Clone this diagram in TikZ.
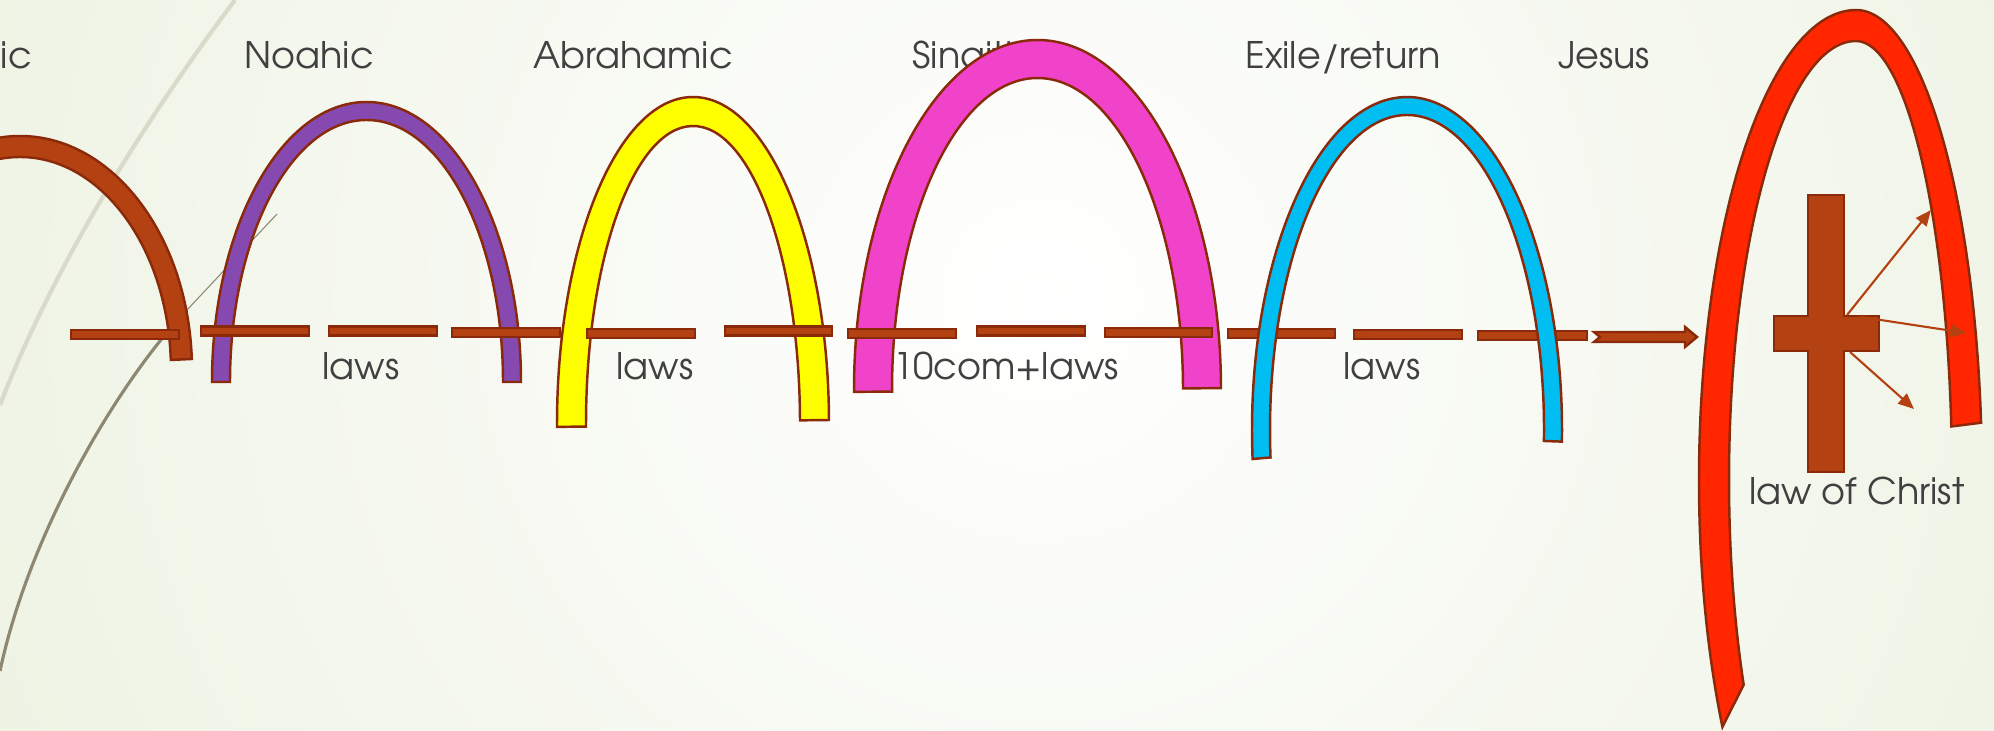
\documentclass[tikz,border=0pt]{standalone}
\usepackage{fontspec}
\setmainfont{texgyreadventor}[Extension=.otf, UprightFont=*-regular]
\usepackage{xcolor}
\usepackage{tikz}
\usetikzlibrary{arrows.meta}

\definecolor{lawbrown}{HTML}{B44112}
\definecolor{lawedge}{HTML}{8A2A0A}
\definecolor{noahpurple}{HTML}{8549B0}
\definecolor{abramyellow}{HTML}{FFFF00}
\definecolor{sinaipink}{HTML}{F043C9}
\definecolor{exileblue}{HTML}{00BDF2}
\definecolor{christred}{HTML}{FF2600}
\definecolor{inkgray}{HTML}{404040}
\definecolor{paper}{HTML}{E6EDD6}
\definecolor{wisplight}{HTML}{D9DACA}
\definecolor{wispdark}{HTML}{8E8772}

% one covenant arch: colour, centre x, centre y, x radius, y radius, thickness, start, end
\newcommand{\archband}[8]{%
  \filldraw[band, fill=#1] ([shift={(#7:#4 and #5)}]#2,#3) arc[start angle=#7, end angle=#8, x radius=#4, y radius=#5]
    -- ([shift={(#8:#4-#6 and #5-#6)}]#2,#3) arc[start angle=#8, end angle=#7, x radius=#4-#6, y radius=#5-#6] -- cycle;}

\tikzset{
  band/.style={draw=lawedge, line width=0.7pt},
  lawbar/.style={draw=lawedge, fill=lawbrown, line width=0.7pt},
  ray/.style={draw=lawbrown, line width=0.6pt, -{Triangle[length=4.5pt, width=3.8pt]}}
}

\begin{document}
\begin{tikzpicture}[x=0.01cm, y=-0.01cm, every node/.style={anchor=base, inner sep=0pt, text=inkgray, font=\fontsize{10.4}{12}\selectfont}]
    \useasboundingbox (0,0) rectangle (1994,731);
    \begin{scope}
    \clip (0,0) rectangle (1994,731);
    \shade[inner color=white, outer color=paper] (1040,300) circle (1700);
    \draw[wisplight, line width=1.2pt] (235,0) .. controls (160,100) and (60,250) .. (0,405);
    \draw[wispdark, line width=0.3pt] (277,214) -- (187,310);
    \draw[wispdark, line width=0.9pt] (187,310) .. controls (120,380) and (30,530) .. (0,671);

    % Covenant names
    \node (adamic) [anchor=base west] at (0,69) {ic};
    \node (noahic) at (309,69) {Noahic};
    \node (abrahamic) at (633,69) {Abrahamic};
    \node (sinaitic) [anchor=base west] at (912,69) {Sinaitic};
    \node (exile) at (1343,69) {Exile/return};
    \node (jesus) at (1604,69) {Jesus};

    % Arches
    \archband{lawbrown}{20}{370}{172}{234}{21}{180}{357.3}
    \archband{noahpurple}{366.5}{382}{154.5}{280}{18}{180}{360}
    \archband{abramyellow}{693}{424}{136}{327}{29}{179.5}{359.3}
    \archband{sinaipink}{1037.5}{390}{183.5}{350}{38}{179.7}{359.7}

    % The line of law
    \foreach \xa/\xb/\yc in {71/179/334.5, 201/309/331, 329/437/331, 452/560/332.5,
        587/695/333.5, 725/832/331, 848/956/333.5, 977/1085/331, 1105/1212/332.5,
        1228/1335/333.5, 1354/1462/334.5, 1478/1587/335.5}
        \filldraw[lawbar] (\xa,\yc-4.5) rectangle (\xb,\yc+4.5);

    \archband{exileblue}{1407}{430}{155}{333}{18}{175}{362}
    \filldraw[lawbar] (1594,332) -- (1685,332) -- (1685,327) -- (1697,337) -- (1685,347)
        -- (1685,342) -- (1594,342) -- (1600,337) -- cycle;

    % Christ arch, wider on the left
    \filldraw[band, fill=christred] ([shift={(148.3:157 and 470)}]1856,480)
        arc[start angle=148.3, end angle=270, x radius=157, y radius=470]
        arc[start angle=270, end angle=353, x radius=126, y radius=470]
        -- ([shift={(353:96 and 439)}]1856,480)
        arc[start angle=353, end angle=270, x radius=96, y radius=439]
        arc[start angle=270, end angle=152.2, x radius=127, y radius=439] -- cycle;

    % Cross
    \filldraw[lawbar] (1808,195) -- (1844,195) -- (1844,316) -- (1879,316) -- (1879,351)
        -- (1844,351) -- (1844,472) -- (1808,472) -- (1808,351) -- (1774,351)
        -- (1774,316) -- (1808,316) -- cycle;
    \coordinate (rayup) at (1847,315);
    \coordinate (rayside) at (1861,317);
    \coordinate (raydown) at (1850,352);
    \coordinate (tipup) at (1931,210);
    \coordinate (tipside) at (1966,333);
    \coordinate (tipdown) at (1914,409);

    % Laws
    \node (laws1) at (361,380) {laws};
    \node (laws2) at (655,380) {laws};
    \node (tencom) at (1006,380) {10com+laws};
    \node (laws3) at (1382,380) {laws};
    \node (christlaw) at (1857,505) {law of Christ};

    % Rays
    \draw[ray] (rayup) -- (tipup);
    \draw[ray] (rayside) -- (tipside);
    \draw[ray] (raydown) -- (tipdown);
    \end{scope}
\end{tikzpicture}
\end{document}
